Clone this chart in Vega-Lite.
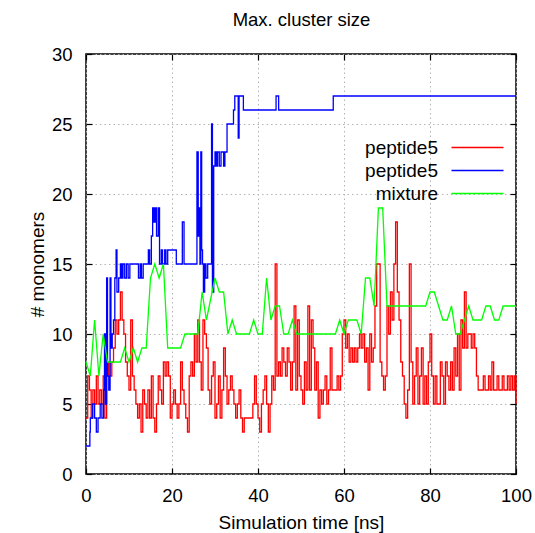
{
  "$schema": "https://vega.github.io/schema/vega-lite/v6.json",
  "width": 430,
  "height": 420,
  "autosize": {"type": "none"},
  "padding": {"left": 86, "top": 54, "right": 19, "bottom": 59},
  "background": "white",
  "config": {
    "font": "Liberation Sans",
    "view": {"stroke": "black", "strokeWidth": 1.5},
    "axis": {
      "labelFont": "Liberation Sans", "titleFont": "Liberation Sans",
      "labelFontSize": 18.5, "titleFontSize": 19, "titleFontWeight": "normal",
      "labelColor": "black", "titleColor": "black",
      "tickColor": "black", "tickWidth": 1.2, "tickSize": -6,
      "domain": false,
      "gridColor": "#b4b4b4", "gridDash": [1.5, 3], "gridWidth": 1
    }
  },
  "datasets": {
    "peptide5_1": [
      {"t":0,"v":4},{"t":0.4,"v":7},{"t":0.8,"v":6},{"t":1.2,"v":4},{"t":1.6,"v":6},
      {"t":2,"v":5},{"t":2.4,"v":7},{"t":2.8,"v":5},{"t":3.2,"v":6},{"t":3.6,"v":5},
      {"t":4,"v":7},{"t":4.4,"v":4},{"t":4.8,"v":7},{"t":5.2,"v":8},{"t":5.6,"v":7},
      {"t":6,"v":8},{"t":6.4,"v":9},{"t":6.8,"v":11},{"t":7.2,"v":10},{"t":7.6,"v":11},
      {"t":8,"v":13},{"t":8.4,"v":11},{"t":8.8,"v":10},{"t":9.2,"v":8},{"t":9.6,"v":7},
      {"t":10,"v":6},{"t":10.4,"v":11},{"t":10.8,"v":7},{"t":11.2,"v":6},{"t":11.6,"v":5},
      {"t":12,"v":4},{"t":12.4,"v":5},{"t":12.8,"v":3},{"t":13.2,"v":6},{"t":13.6,"v":5},
      {"t":14,"v":4},{"t":14.4,"v":6},{"t":14.8,"v":4},{"t":15.2,"v":7},{"t":15.6,"v":4},
      {"t":16,"v":3},{"t":16.4,"v":5},{"t":16.8,"v":7},{"t":17.2,"v":6},{"t":17.6,"v":5},
      {"t":18,"v":8},{"t":18.4,"v":7},{"t":18.8,"v":8},{"t":19.2,"v":7},{"t":19.6,"v":4},
      {"t":20,"v":5},{"t":20.4,"v":6},{"t":20.8,"v":5},{"t":21.2,"v":4},{"t":21.6,"v":5},
      {"t":22,"v":8},{"t":22.4,"v":6},{"t":22.8,"v":5},{"t":23.2,"v":4},{"t":23.6,"v":3},
      {"t":24,"v":7},{"t":24.4,"v":8},{"t":24.8,"v":7},{"t":25.2,"v":10},{"t":25.6,"v":8},
      {"t":26,"v":11},{"t":26.4,"v":8},{"t":26.8,"v":6},{"t":27.2,"v":11},{"t":27.6,"v":10},
      {"t":28,"v":9},{"t":28.4,"v":6},{"t":28.8,"v":5},{"t":29.2,"v":7},{"t":29.6,"v":8},
      {"t":30,"v":4},{"t":30.4,"v":5},{"t":30.8,"v":7},{"t":31.2,"v":4},{"t":31.6,"v":6},
      {"t":32,"v":9},{"t":32.4,"v":7},{"t":32.8,"v":5},{"t":33.2,"v":6},{"t":33.6,"v":7},
      {"t":34,"v":6},{"t":34.4,"v":5},{"t":34.8,"v":4},{"t":35.2,"v":5},{"t":35.6,"v":6},
      {"t":36,"v":4},{"t":36.4,"v":3},{"t":36.8,"v":4},{"t":37.2,"v":4},{"t":37.6,"v":4},
      {"t":38,"v":4},{"t":38.4,"v":4},{"t":38.8,"v":5},{"t":39.2,"v":7},{"t":39.6,"v":5},
      {"t":40,"v":4},{"t":40.4,"v":3},{"t":40.8,"v":5},{"t":41.2,"v":6},{"t":41.6,"v":7},
      {"t":42,"v":5},{"t":42.4,"v":3},{"t":42.8,"v":5},{"t":43.2,"v":7},{"t":43.6,"v":6},
      {"t":44,"v":15},{"t":44.4,"v":7},{"t":44.8,"v":8},{"t":45.2,"v":7},{"t":45.6,"v":9},
      {"t":46,"v":8},{"t":46.4,"v":7},{"t":46.8,"v":9},{"t":47.2,"v":8},{"t":47.6,"v":6},
      {"t":48,"v":8},{"t":48.4,"v":12},{"t":48.8,"v":6},{"t":49.2,"v":11},{"t":49.6,"v":7},
      {"t":50,"v":6},{"t":50.4,"v":5},{"t":50.8,"v":8},{"t":51.2,"v":6},{"t":51.6,"v":12},
      {"t":52,"v":6},{"t":52.4,"v":11},{"t":52.8,"v":9},{"t":53.2,"v":6},{"t":53.6,"v":8},
      {"t":54,"v":4},{"t":54.4,"v":6},{"t":54.8,"v":5},{"t":55.2,"v":6},{"t":55.6,"v":7},
      {"t":56,"v":5},{"t":56.4,"v":6},{"t":56.8,"v":9},{"t":57.2,"v":6},{"t":57.6,"v":6},
      {"t":58,"v":6},{"t":58.4,"v":7},{"t":58.8,"v":6},{"t":59.2,"v":7},{"t":59.6,"v":10},
      {"t":60,"v":11},{"t":60.4,"v":9},{"t":60.8,"v":10},{"t":61.2,"v":8},{"t":61.6,"v":9},
      {"t":62,"v":8},{"t":62.4,"v":9},{"t":62.8,"v":8},{"t":63.2,"v":9},{"t":63.6,"v":10},
      {"t":64,"v":9},{"t":64.4,"v":10},{"t":64.8,"v":8},{"t":65.2,"v":9},{"t":65.6,"v":6},
      {"t":66,"v":10},{"t":66.4,"v":8},{"t":66.8,"v":9},{"t":67.2,"v":12},{"t":67.6,"v":15},
      {"t":68,"v":15},{"t":68.4,"v":8},{"t":68.8,"v":7},{"t":69.2,"v":6},{"t":69.6,"v":7},
      {"t":70,"v":12},{"t":70.4,"v":10},{"t":70.8,"v":13},{"t":71.2,"v":11},{"t":71.6,"v":15},
      {"t":72,"v":18},{"t":72.4,"v":13},{"t":72.8,"v":11},{"t":73.2,"v":8},{"t":73.6,"v":7},
      {"t":74,"v":5},{"t":74.4,"v":4},{"t":74.8,"v":6},{"t":75.2,"v":15},{"t":75.6,"v":8},
      {"t":76,"v":5},{"t":76.4,"v":7},{"t":76.8,"v":9},{"t":77.2,"v":5},{"t":77.6,"v":7},
      {"t":78,"v":9},{"t":78.4,"v":5},{"t":78.8,"v":7},{"t":79.2,"v":5},{"t":79.6,"v":8},
      {"t":80,"v":10},{"t":80.4,"v":7},{"t":80.8,"v":5},{"t":81.2,"v":7},{"t":81.6,"v":5},
      {"t":82,"v":5},{"t":82.4,"v":8},{"t":82.8,"v":7},{"t":83.2,"v":5},{"t":83.6,"v":8},
      {"t":84,"v":7},{"t":84.4,"v":6},{"t":84.8,"v":8},{"t":85.2,"v":6},{"t":85.6,"v":9},
      {"t":86,"v":7},{"t":86.4,"v":10},{"t":86.8,"v":6},{"t":87.2,"v":11},{"t":87.6,"v":9},
      {"t":88,"v":13},{"t":88.4,"v":9},{"t":88.8,"v":10},{"t":89.2,"v":10},{"t":89.6,"v":9},
      {"t":90,"v":10},{"t":90.4,"v":9},{"t":90.8,"v":7},{"t":91.2,"v":6},{"t":91.6,"v":6},
      {"t":92,"v":6},{"t":92.4,"v":7},{"t":92.8,"v":6},{"t":93.2,"v":6},{"t":93.6,"v":7},
      {"t":94,"v":6},{"t":94.4,"v":8},{"t":94.8,"v":6},{"t":95.2,"v":6},{"t":95.6,"v":7},
      {"t":96,"v":6},{"t":96.4,"v":6},{"t":96.8,"v":7},{"t":97.2,"v":6},{"t":97.6,"v":6},
      {"t":98,"v":7},{"t":98.4,"v":6},{"t":98.8,"v":7},{"t":99.2,"v":6},{"t":99.6,"v":7},
      {"t":100,"v":5}
    ],
    "peptide5_2": [
      {"t":0,"v":2},{"t":0.9,"v":3},{"t":1.0,"v":4},{"t":1.5,"v":5},{"t":2.0,"v":4},{"t":2.4,"v":3},
      {"t":2.8,"v":4},{"t":3.3,"v":5},{"t":3.7,"v":4},{"t":4.1,"v":6},{"t":4.3,"v":10},{"t":4.5,"v":5},
      {"t":4.8,"v":14},{"t":5.0,"v":7},{"t":5.3,"v":6},{"t":5.6,"v":14},{"t":5.8,"v":9},{"t":6.1,"v":10},
      {"t":6.4,"v":11},{"t":6.7,"v":14},{"t":7.0,"v":16},{"t":7.2,"v":13},{"t":7.6,"v":14},{"t":8.0,"v":15},
      {"t":8.3,"v":14},{"t":8.6,"v":15},{"t":9.0,"v":14},{"t":9.4,"v":15},{"t":9.8,"v":14},{"t":10.2,"v":15},
      {"t":12.2,"v":14},{"t":12.6,"v":15},{"t":12.9,"v":14},{"t":13.3,"v":15},{"t":14.5,"v":16},{"t":14.8,"v":15},
      {"t":15.2,"v":17},{"t":15.5,"v":19},{"t":15.8,"v":18},{"t":16.1,"v":19},{"t":16.4,"v":17},{"t":16.8,"v":19},
      {"t":17.1,"v":15},{"t":17.5,"v":16},{"t":17.8,"v":15},{"t":18.3,"v":16},{"t":18.6,"v":15},{"t":19.0,"v":16},
      {"t":21.0,"v":15},{"t":22.4,"v":18},{"t":22.8,"v":15},{"t":25.8,"v":23},{"t":26.1,"v":17},{"t":26.3,"v":19},
      {"t":26.5,"v":15},{"t":26.7,"v":23},{"t":26.9,"v":16},{"t":27.1,"v":15},{"t":27.3,"v":13},{"t":27.6,"v":15},
      {"t":27.9,"v":14},{"t":28.3,"v":15},{"t":29.2,"v":25},{"t":29.4,"v":13},{"t":29.7,"v":22},{"t":30.0,"v":23},
      {"t":30.3,"v":22},{"t":30.6,"v":23},{"t":31.0,"v":22},{"t":31.4,"v":23},{"t":32.0,"v":22},{"t":32.3,"v":23},
      {"t":32.8,"v":25},{"t":34.3,"v":26},{"t":34.6,"v":27},{"t":35.4,"v":24},{"t":35.6,"v":27},{"t":36.6,"v":26},
      {"t":44.2,"v":27},{"t":44.8,"v":26},{"t":57.5,"v":27},{"t":100,"v":27}
    ],
    "mixture": [
      {"t":0,"v":8},{"t":1,"v":7},{"t":2,"v":11},{"t":3,"v":7},{"t":4,"v":10},{"t":5,"v":8},{"t":6,"v":8},
      {"t":7,"v":8},{"t":8,"v":8},{"t":9,"v":9},{"t":10,"v":8},{"t":11,"v":9},{"t":12,"v":8},{"t":13,"v":9},
      {"t":14,"v":9},{"t":15,"v":14},{"t":16,"v":15},{"t":17,"v":14},{"t":18,"v":15},{"t":19,"v":9},{"t":20,"v":9},
      {"t":21,"v":9},{"t":22,"v":9},{"t":23,"v":10},{"t":24,"v":10},{"t":25,"v":10},{"t":26,"v":10},{"t":27,"v":13},
      {"t":28,"v":11},{"t":30,"v":14},{"t":31,"v":13},{"t":32,"v":13},{"t":33,"v":10},{"t":34,"v":11},{"t":35,"v":10},
      {"t":36,"v":10},{"t":37,"v":10},{"t":38,"v":10},{"t":39,"v":11},{"t":40,"v":10},{"t":41,"v":10},{"t":42,"v":14},
      {"t":43,"v":11},{"t":44,"v":12},{"t":45,"v":12},{"t":46,"v":10},{"t":47,"v":10},{"t":48,"v":11},{"t":49,"v":10},
      {"t":50,"v":10},{"t":51,"v":10},{"t":52,"v":10},{"t":53,"v":10},{"t":54,"v":10},{"t":55,"v":10},{"t":56,"v":10},
      {"t":57,"v":10},{"t":58,"v":10},{"t":59,"v":11},{"t":60,"v":10},{"t":61,"v":11},{"t":62,"v":11},{"t":63,"v":11},
      {"t":64,"v":10},{"t":65,"v":14},{"t":66,"v":14},{"t":67,"v":12},{"t":68,"v":19},{"t":69,"v":19},{"t":70,"v":12},
      {"t":71,"v":12},{"t":72,"v":12},{"t":73,"v":12},{"t":74,"v":12},{"t":75,"v":12},{"t":76,"v":12},{"t":77,"v":12},
      {"t":78,"v":12},{"t":79,"v":12},{"t":80,"v":13},{"t":81,"v":13},{"t":82,"v":12},{"t":83,"v":11},{"t":84,"v":11},
      {"t":85,"v":12},{"t":86,"v":10},{"t":87,"v":10},{"t":88,"v":11},{"t":89,"v":12},{"t":90,"v":11},{"t":91,"v":11},
      {"t":92,"v":11},{"t":93,"v":12},{"t":94,"v":12},{"t":95,"v":11},{"t":96,"v":11},{"t":97,"v":12},{"t":98,"v":12},
      {"t":99,"v":12},{"t":100,"v":12}
    ]
  },
  "layer": [
    {
      "data": {"name": "peptide5_1"},
      "mark": {"type": "line", "interpolate": "step-after", "strokeWidth": 1.3},
      "encoding": {
        "x": {"field": "t", "type": "quantitative",
              "scale": {"domain": [0, 100], "nice": false},
              "axis": {"orient": "bottom", "values": [0, 20, 40, 60, 80, 100], "grid": true,
                       "labelPadding": 18, "labelFlush": false, "title": "Simulation time [ns]", "titlePadding": 9}},
        "y": {"field": "v", "type": "quantitative",
              "scale": {"domain": [0, 30], "nice": false},
              "axis": {"orient": "left", "values": [0, 5, 10, 15, 20, 25, 30], "grid": true,
                       "labelPadding": 20, "labelFlush": false, "title": "# monomers", "titlePadding": 4}},
        "color": {"datum": "peptide5 (1)", "type": "nominal",
                  "scale": {"domain": ["peptide5 (1)", "peptide5 (2)", "mixture"], "range": ["#ff0000", "#0000ff", "#00ff00"]},
                  "legend": {"orient": "none", "legendX": 382, "legendY": 84, "title": null, "padding": 0,
                             "symbolType": "M-5.2,0H5.2", "symbolSize": 100, "symbolStrokeWidth": 1.5,
                             "labelAlign": "right", "labelOffset": -49, "labelFont": "Liberation Sans",
                             "labelFontSize": 19, "labelColor": "black", "rowPadding": 3,
                             "labelExpr": "datum.label == 'mixture' ? 'mixture' : 'peptide5'"}}
      }
    },
    {
      "data": {"name": "peptide5_2"},
      "mark": {"type": "line", "interpolate": "step-after", "strokeWidth": 1.3},
      "encoding": {
        "x": {"field": "t", "type": "quantitative",
              "axis": {"orient": "top", "values": [0, 20, 40, 60, 80, 100], "grid": false, "labels": false,
                       "title": "Max. cluster size", "titleFontSize": 18.5, "titleBaseline": "alphabetic",
                       "titlePadding": 28}},
        "y": {"field": "v", "type": "quantitative",
              "axis": {"orient": "right", "values": [0, 5, 10, 15, 20, 25, 30], "grid": false, "labels": false, "title": null}},
        "color": {"datum": "peptide5 (2)", "type": "nominal"}
      }
    },
    {
      "data": {"name": "mixture"},
      "mark": {"type": "line", "strokeWidth": 1.3},
      "encoding": {
        "x": {"field": "t", "type": "quantitative", "axis": null},
        "y": {"field": "v", "type": "quantitative", "axis": null},
        "color": {"datum": "mixture", "type": "nominal"}
      }
    }
  ],
  "resolve": {"axis": {"x": "independent", "y": "independent"}}
}
